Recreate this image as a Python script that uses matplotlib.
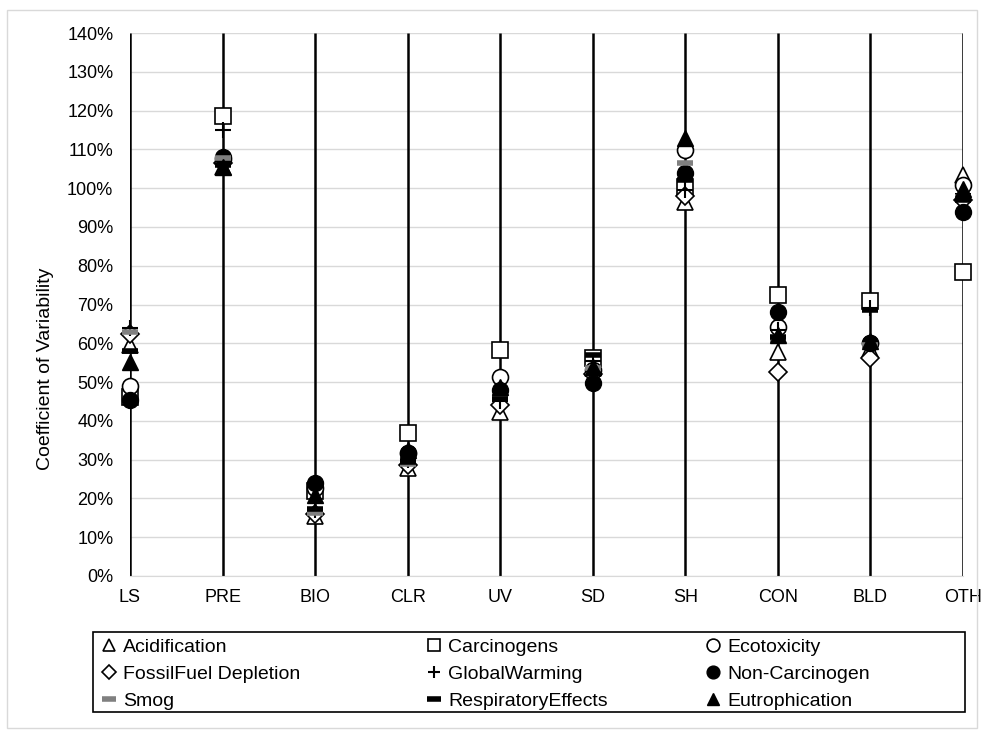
import matplotlib.pyplot as plt
import matplotlib.patches as mpatches
import numpy as np

plt.rcParams['font.family'] = ['Liberation Sans', 'DejaVu Sans']

categories = ['LS', 'PRE', 'BIO', 'CLR', 'UV', 'SD', 'SH', 'CON', 'BLD', 'OTH']

# coefficient of variability (%) per impact category
acidification = [59.5, 105.5, 15.5, 27.8, 42.3, 53.5, 96.5, 57.8, 58.5, 103.4]
carcinogens = [46.2, 118.6, 22.0, 36.8, 58.2, 56.1, 100.2, 72.4, 71.0, 78.4]
ecotoxicity = [49.0, 107.5, 22.6, 31.8, 51.4, 53.0, 109.8, 64.3, 60.0, 100.8]
fossil_fuel = [62.5, 106.5, 16.0, 28.5, 44.0, 52.0, 98.0, 52.7, 56.1, 97.0]
global_warming = [64.0, 115.0, 17.0, 30.0, 45.0, 55.5, 99.5, 63.5, 69.0, 98.5]
non_carcinogen = [45.5, 108.1, 24.0, 31.7, 47.9, 49.7, 104.0, 68.0, 60.1, 93.9]
smog = [63.0, 107.7, 16.2, 29.0, 46.5, 53.5, 106.5, 60.8, 59.5, 97.8]
respiratory = [58.0, 106.0, 17.4, 29.5, 45.6, 57.0, 102.0, 61.5, 68.5, 96.9]
eutrophication = [55.2, 105.5, 20.9, 32.5, 48.8, 54.0, 112.8, 62.1, 60.5, 99.9]

x = np.arange(len(categories))
W, H = 985, 738

fig = plt.figure(figsize=(9.85, 7.38), dpi=100)
ax = fig.add_axes([130 / W, 1 - 576 / H, (963 - 130) / W, (576 - 33) / H])

# outer chart border
fig.patches.append(mpatches.Rectangle((7 / W, 1 - 728 / H), 970 / W, 718 / H,
                                      transform=fig.transFigure, fill=False,
                                      edgecolor='#d9d9d9', lw=1))
# legend box
fig.patches.append(mpatches.Rectangle((93 / W, 1 - 712 / H), (965 - 93) / W, 80 / H,
                                      transform=fig.transFigure, fill=False,
                                      edgecolor='black', lw=1.2))

ax.set_xlim(0, 9)
ax.set_ylim(0, 140)
ax.yaxis.grid(True, color='#d9d9d9', lw=1)
ax.set_axisbelow(True)
ax.vlines(x, 0, 140, color='black', lw=1.8, zorder=1)

ms = 11.5
kw = dict(ls='none', zorder=3, clip_on=False)
ax.plot(x, acidification, marker='^', ms=ms, mfc='white', mec='black', mew=1.2, label='Acidification', **kw)
ax.plot(x, carcinogens, marker='s', ms=ms, mfc='white', mec='black', mew=1.2, label='Carcinogens', **kw)
ax.plot(x, ecotoxicity, marker='o', ms=ms, mfc='white', mec='black', mew=1.2, label='Ecotoxicity', **kw)
ax.plot(x, fossil_fuel, marker='D', ms=9, mfc='white', mec='black', mew=1.2, label='FossilFuel Depletion', **kw)
ax.plot(x, global_warming, marker='+', ms=ms, mec='black', mew=1.5, label='GlobalWarming', **kw)
ax.plot(x, non_carcinogen, marker='o', ms=ms, mfc='black', mec='black', label='Non-Carcinogen', **kw)
ax.plot(x, smog, marker='_', ms=12, mec='#808080', mew=4, label='Smog', **kw)
ax.plot(x, respiratory, marker='_', ms=12, mec='black', mew=4, label='RespiratoryEffects', **kw)
ax.plot(x, eutrophication, marker='^', ms=ms, mfc='black', mec='black', label='Eutrophication', **kw)

ax.set_xticks(x)
ax.set_xticklabels(categories)
ax.set_yticks(np.arange(0, 141, 10))
ax.set_yticklabels([f'{v}%' for v in range(0, 141, 10)])
ax.tick_params(axis='both', length=0, labelsize=13, colors='black')
ax.tick_params(axis='x', pad=9)
ax.tick_params(axis='y', pad=12)
for s in ['left', 'right', 'top']:
    ax.spines[s].set_visible(False)
ax.spines['bottom'].set_color('#d9d9d9')
ax.set_ylabel('Coefficient of Variability', fontsize=14)
ax.yaxis.set_label_coords(46 / W, 0.5, transform=fig.transFigure)
ax.yaxis.label.set_va('center')

# legend: three columns, filled row by row
handles, labels = ax.get_legend_handles_labels()
col_x = [101, 426, 705]
for c in range(3):
    idx = [c, c + 3, c + 6]
    fig.legend([handles[i] for i in idx], [labels[i] for i in idx],
               loc='upper left', bbox_to_anchor=(col_x[c] / W, 1 - 638 / H),
               frameon=False, fontsize=14, handlelength=0.8, handletextpad=0.35,
               borderaxespad=0, borderpad=0, labelspacing=0.48, markerscale=0.8)

fig.savefig('out.png', dpi=100)
